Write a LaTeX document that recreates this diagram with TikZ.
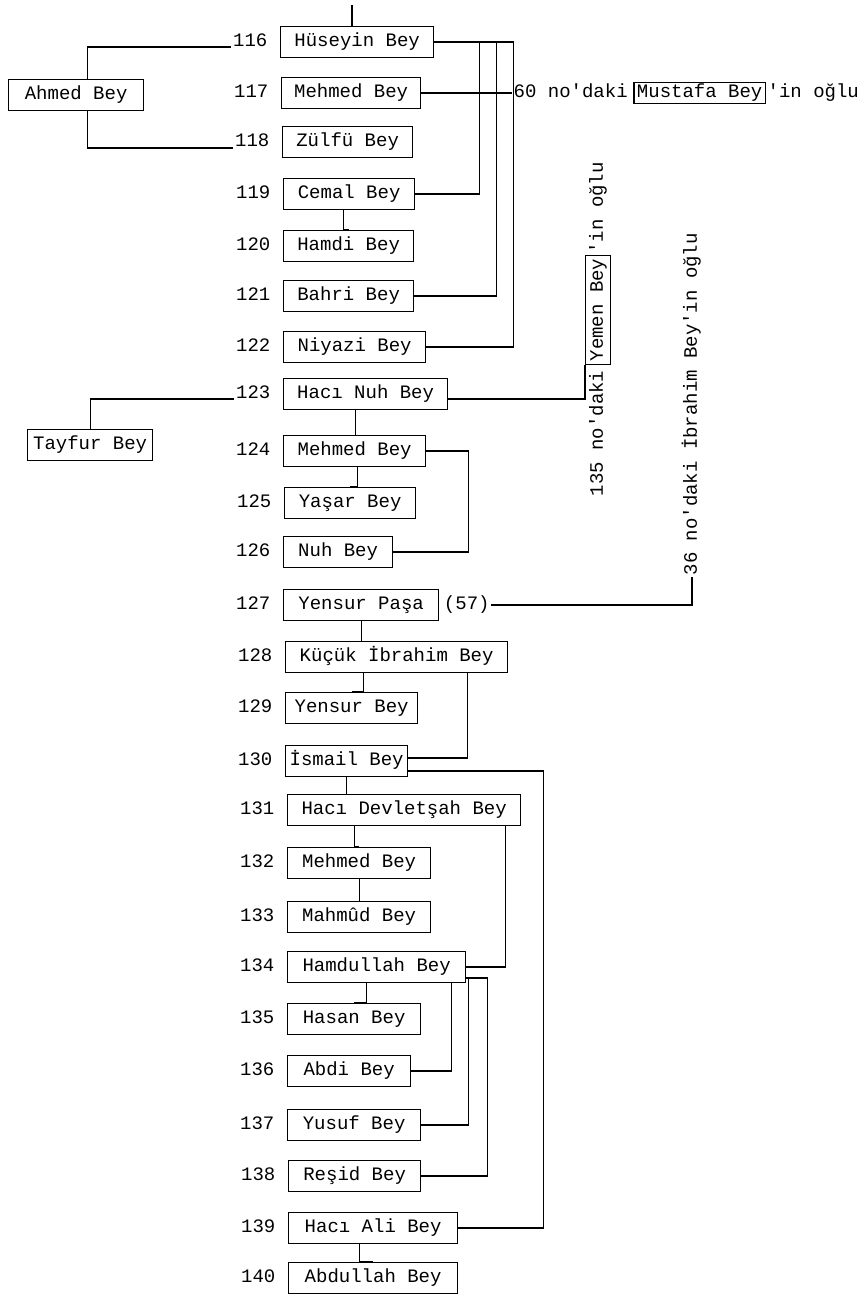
\documentclass[tikz,border=0pt]{standalone}
\usepackage{fontspec}
\newfontfamily\daktilo{Liberation Mono}
\usetikzlibrary{positioning}

\begin{document}
\begin{tikzpicture}[x=1pt,y=-1pt,line width=1.3pt,
  font=\daktilo\fontsize{19}{22}\selectfont,
  kisi/.style={draw,anchor=west,minimum height=31,inner xsep=2,text height=14,text depth=4.5},
  yazi/.style={inner sep=1,text height=14,text depth=4.5},
  sira/.style={inner sep=1,anchor=east,text height=14,text depth=4.5}]
 \fill[white] (0,0) rectangle (868,1302);
 \useasboundingbox (0,0) rectangle (868,1302);

 \foreach \no/\x/\y/\w/\ad in {116/280/42/153/Hüseyin Bey, 117/281/93/139/Mehmed Bey,
   118/282/142/130/Zülfü Bey, 119/283/194/131/Cemal Bey, 120/283/246/130/Hamdi Bey,
   121/283/296/130/Bahri Bey, 122/283/347/142/Niyazi Bey, 123/283/394/164/Hacı Nuh Bey,
   124/283/451/142/Mehmed Bey, 125/284/503/131/Yaşar Bey, 126/283/552/109/Nuh Bey,
   127/283/605/155/Yensur Paşa, 128/285/657/222/Küçük İbrahim Bey, 129/285/708/132/Yensur Bey,
   130/285/761/122/İsmail Bey, 131/287/810/233/Hacı Devletşah Bey, 132/287/863/143/Mehmed Bey,
   133/287/917/143/Mahmûd Bey, 134/287/967/178/Hamdullah Bey, 135/287/1019/133/Hasan Bey,
   136/287/1071/123/Abdi Bey, 137/287/1125/133/Yusuf Bey, 138/288/1176/132/Reşid Bey,
   139/288/1228/169/Hacı Ali Bey, 140/288/1278/169/Abdullah Bey}
 {
  \node[kisi,minimum width=\w] (b\no) at (\x,\y) {\ad};
  \node[sira] (n\no) at ([xshift=-11]b\no.west) {\no};
 }

 \node[kisi,minimum width=135] (ahmed) at (8,95) {Ahmed Bey};
 \node[kisi,minimum width=125] (tayfur) at (27,445) {Tayfur Bey};

 \node[yazi,anchor=west] (t60a) at (512,93) {60 no'daki};
 \node[yazi,draw,inner xsep=3,right=4 of t60a] (mustafa) {Mustafa Bey};
 \node[yazi,right=0 of mustafa] (t60c) {'in oğlu};

 \node[yazi,rotate=90,anchor=east,inner xsep=5] (r135a) at (598,365) {135 no'daki};
 \node[yazi,draw,rotate=90,anchor=west,inner sep=3] (k135) at (r135a.east) {Yemen Bey};
 \node[yazi,rotate=90,anchor=west] (r135c) at (k135.east) {'in oğlu};

 \node[yazi,rotate=90,anchor=west] (r36) at (692,577) {36 no'daki İbrahim Bey'in oğlu};
 \node[yazi,right=3 of b127] (yedi) {(57)};

 \coordinate (ust) at (352,5);
 \draw (ust) -- (ust |- b116.north);
 \draw ([xshift=11.5]ahmed.north) |- ([yshift=-5]n116.west);
 \draw ([xshift=11.5]ahmed.south) |- ([yshift=-6]n118.west);
 \draw (tayfur.north) |- ([yshift=-5]n123.west);

 \draw (b116.east) -- ++(79,0) |- (b122.east);
 \draw ([xshift=45]b116.east) |- (b119.east);
 \draw ([xshift=62]b116.east) |- (b121.east);
 \draw (b117.east) -- (t60a.west);
 \draw ([xshift=-6]b119.south) |- (b120.north);

 \draw ([yshift=-5]b123.east) -| (k135.north west);
 \draw ([xshift=-10]b123.south) |- (b124.north);
 \draw ([xshift=3]b124.south) |- (b125.north);
 \draw (b124.east) -- ++(42,0) |- (b126.east);

 \draw (yedi.east) -| (r36.west);
 \draw (b127.south) -- (b127.south |- b128.north);
 \draw ([xshift=-33]b128.south) |- (b129.north);
 \draw ([xshift=71]b128.south) |- ([yshift=3]b130.east);
 \draw (b130.south) -- (b130.south |- b131.north);
 \draw ([yshift=-10]b130.east) -- ++(135,0) |- (b139.east);

 \draw ([xshift=-50]b131.south) |- (b132.north);
 \draw ([xshift=101]b131.south) |- (b134.east);
 \draw (b132.south) -- (b132.south |- b133.north);

 \draw ([xshift=-10]b134.south) |- (b135.north);
 \draw ([yshift=-11]b134.east) -- ++(21,0) |- (b138.east);
 \draw ([xshift=2,yshift=-11]b134.east) |- (b137.east);
 \draw ([xshift=-15]b134.south east) |- (b136.east);
 \draw ([xshift=-14]b139.south) |- (b140.north);
\end{tikzpicture}
\end{document}
